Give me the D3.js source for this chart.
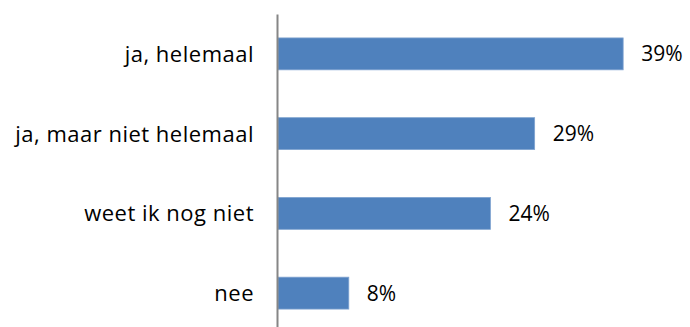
<!DOCTYPE html>
<html>
<head>
<meta charset="utf-8">
<script src="https://cdn.jsdelivr.net/npm/d3@7"></script>
<style>
	body { margin: 0; background: #fff; }
	text { font-family: "Open Sans", sans-serif; fill: #000; }
</style>
</head>
<body>
<svg width="690" height="327"></svg>
<script>
var categories = ["ja, helemaal", "ja, maar niet helemaal", "weet ik nog niet", "nee"];
var values = [39, 29, 24, 8]; // percentages

var svg = d3.select("svg"),
	width = +svg.attr("width"),
	height = +svg.attr("height");

var axisX = 278;

var x = d3.scaleLinear()
	.domain([0, 40])
	.range([axisX, axisX + 354]);

var y = d3.scaleBand()
	.domain(categories)
	.range([14, 333])
	.paddingInner(0.6)
	.paddingOuter(0.3);

var data = categories.map(function(c, i) { return {label: c, value: values[i]}; });

// bars
svg.append("g")
	.selectAll("rect")
	.data(data)
	.enter().append("rect")
	.attr("x", x(0))
	.attr("y", function(d) { return y(d.label); })
	.attr("width", function(d) { return x(d.value) - x(0); })
	.attr("height", y.bandwidth())
	.attr("fill", "#4f81bd")
	.attr("stroke", "#7fa3d0")
	.attr("stroke-width", 0.8);

// value labels
svg.append("g")
	.selectAll("text")
	.data(data)
	.enter().append("text")
	.attr("x", function(d) { return x(d.value) + 18; })
	.attr("y", function(d) { return y(d.label) + y.bandwidth() / 2; })
	.attr("dy", "0.36em")
	.style("font-size", "21px")
	.text(function(d) { return d.value + "%"; });

// category axis
var axis = svg.append("g")
	.attr("transform", "translate(" + (axisX - 1) + ",0)")
	.call(d3.axisLeft(y).tickSize(0).tickPadding(23));

axis.select(".domain")
	.attr("stroke", "#868686")
	.attr("stroke-width", 2);

axis.selectAll("text")
	.attr("dy", "0.36em")
	.style("font-size", "22px")
	.style("letter-spacing", "0.5px")
	.style("font-family", "'Open Sans', sans-serif")
	.attr("fill", "#000");
</script>
</body>
</html>
